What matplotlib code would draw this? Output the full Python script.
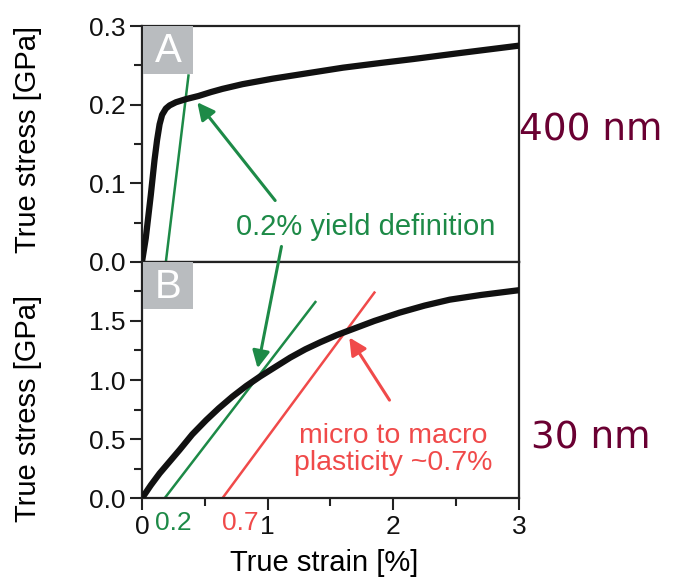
import matplotlib
matplotlib.use("Agg")
import matplotlib.pyplot as plt
from matplotlib.patches import Rectangle
from matplotlib.transforms import blended_transform_factory

plt.rcParams["font.family"] = ["Liberation Sans", "DejaVu Sans"]

# 400 nm pillar (panel A)
strain_a = [0, 0.03, 0.07, 0.10, 0.12, 0.14, 0.16, 0.19, 0.22, 0.27, 0.35, 0.45,
            0.55, 0.64, 0.80, 1.04, 1.20, 1.36, 1.60, 1.90, 2.16, 2.50, 3.0]
stress_a = [0, 0.03, 0.085, 0.13, 0.155, 0.175, 0.187, 0.195, 0.199, 0.203, 0.207, 0.211,
            0.216, 0.220, 0.226, 0.233, 0.237, 0.241, 0.247, 0.253, 0.258, 0.265, 0.275]

# 30 nm pillar (panel B)
strain_b = [0, 0.07, 0.14, 0.22, 0.30, 0.40, 0.51, 0.61, 0.72, 0.83, 0.94, 1.06,
            1.18, 1.30, 1.42, 1.55, 1.65, 1.85, 2.05, 2.25, 2.45, 2.70, 3.0]
stress_b = [0, 0.11, 0.21, 0.31, 0.41, 0.54, 0.66, 0.76, 0.86, 0.95, 1.03, 1.11,
            1.19, 1.26, 1.32, 1.38, 1.42, 1.50, 1.57, 1.63, 1.68, 1.72, 1.76]

# offset lines
yield_a_x = [0.19, 0.37]
yield_a_y = [0.0, 0.237]
yield_b_x = [0.18, 1.38]
yield_b_y = [0.0, 1.66]
macro_b_x = [0.64, 1.85]
macro_b_y = [0.0, 1.74]

GREEN = "#1d8a47"
RED = "#f04a4a"
MAROON = "#6a0032"
BOXGRAY = "#b9bcbf"

fig = plt.figure(figsize=(6.73, 5.78), dpi=100)
ax_a = fig.add_axes([0.211, 0.547, 0.560, 0.408])
ax_b = fig.add_axes([0.211, 0.138, 0.560, 0.409], sharex=ax_a)

for ax in (ax_a, ax_b):
    for sp in ax.spines.values():
        sp.set_linewidth(1.6)
        sp.set_color("#222222")
    ax.tick_params(which="major", direction="out", length=8.5, width=1.5,
                   labelsize=19, colors="#222222", labelcolor="#111111")
    ax.tick_params(which="minor", direction="out", length=5.5, width=1.5,
                   colors="#222222")

# panel A
ax_a.plot(strain_a, stress_a, color="#111111", lw=4.5, solid_capstyle="round",
          solid_joinstyle="round", zorder=3)
ax_a.plot(yield_a_x, yield_a_y, color=GREEN, lw=1.8, zorder=2)
ax_a.set_ylim(0, 0.3)
ax_a.set_yticks([0, 0.1, 0.2, 0.3])
ax_a.set_yticklabels(["0.0", "0.1", "0.2", "0.3"])
ax_a.set_yticks([0.05, 0.15, 0.25], minor=True)
ax_a.tick_params(axis="x", which="both", bottom=False, labelbottom=False)
ax_a.set_ylabel("True stress [GPa]", fontsize=21)
ax_a.yaxis.set_label_coords(-0.265, 0.517)
ax_a.annotate("", xy=(0.44, 0.203), xytext=(1.06, 0.078),
              arrowprops=dict(arrowstyle="-|>", color=GREEN, lw=2.2,
                              mutation_scale=26, shrinkA=0, shrinkB=0))
ax_a.text(1.78, 0.044, "0.2% yield definition", color=GREEN, fontsize=21,
          ha="center", va="center")
ax_a.add_patch(Rectangle((0.003, 0.797), 0.133, 0.203, transform=ax_a.transAxes,
                         color=BOXGRAY, lw=0, zorder=4))
ax_a.text(0.069, 0.895, "A", transform=ax_a.transAxes, color="white",
          fontsize=29, ha="center", va="center", zorder=5)

# panel B
ax_b.plot(strain_b, stress_b, color="#111111", lw=4.5, solid_capstyle="round",
          solid_joinstyle="round", zorder=3)
ax_b.plot(yield_b_x, yield_b_y, color=GREEN, lw=1.8, zorder=2)
ax_b.plot(macro_b_x, macro_b_y, color=RED, lw=1.8, zorder=2)
ax_b.set_xlim(0, 3)
ax_b.set_ylim(0, 2.0)
ax_b.set_yticks([0, 0.5, 1.0, 1.5])
ax_b.set_yticklabels(["0.0", "0.5", "1.0", "1.5"])
ax_b.set_yticks([0.25, 0.75, 1.25, 1.75], minor=True)
ax_b.set_xticks([0, 1, 2, 3])
ax_b.set_xticklabels(["0", "1", "2", "3"])
ax_b.set_xticks([0.5, 1.5, 2.5], minor=True)
ax_b.set_ylabel("True stress [GPa]", fontsize=21)
ax_b.yaxis.set_label_coords(-0.265, 0.38)
ax_b.set_xlabel("True strain [%]", fontsize=21)
ax_b.xaxis.set_label_coords(0.483, -0.215)

trans = blended_transform_factory(ax_b.transData, ax_b.transAxes)
ax_b.text(0.25, -0.052, "0.2", color=GREEN, fontsize=19, ha="center", va="top",
          transform=trans)
ax_b.text(0.78, -0.052, "0.7", color=RED, fontsize=19, ha="center", va="top",
          transform=trans)

ax_b.annotate("", xy=(0.92, 1.10), xytext=(1.11, 2.13), annotation_clip=False,
              arrowprops=dict(arrowstyle="-|>", color=GREEN, lw=2.2,
                              mutation_scale=26, shrinkA=0, shrinkB=0))
ax_b.annotate("", xy=(1.65, 1.36), xytext=(1.97, 0.83),
              arrowprops=dict(arrowstyle="-|>", color=RED, lw=2.2,
                              mutation_scale=26, shrinkA=0, shrinkB=0))
ax_b.text(2.0, 0.41, "micro to macro\nplasticity ~0.7%", color=RED, fontsize=20.5,
          ha="center", va="center", linespacing=1.05)
ax_b.add_patch(Rectangle((0.003, 0.80), 0.133, 0.20, transform=ax_b.transAxes,
                         color=BOXGRAY, lw=0, zorder=4))
ax_b.text(0.069, 0.895, "B", transform=ax_b.transAxes, color="white",
          fontsize=29, ha="center", va="center", zorder=5)

# size labels
fig.text(0.878, 0.775, "400 nm", color=MAROON, fontsize=27, ha="center",
         va="center", family="DejaVu Sans")
fig.text(0.878, 0.242, "30 nm", color=MAROON, fontsize=27, ha="center",
         va="center", family="DejaVu Sans")

fig.savefig("out.png", dpi=100)
